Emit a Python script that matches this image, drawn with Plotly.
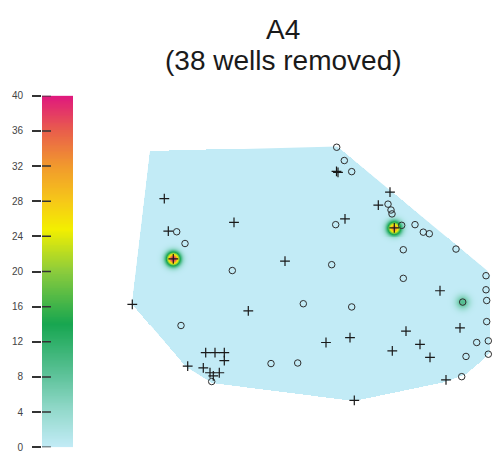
import numpy as np
import plotly.graph_objects as go

# ---- well locations (map units), marker type and measured value ----
circle_x = [336.7, 344.3, 351.7, 388.0, 391.0, 392.0, 335.7, 401.7, 415.0, 423.3,
            429.3, 403.3, 456.0, 331.7, 176.7, 185.0, 232.3, 303.3, 181.0, 211.7,
            271.0, 297.7, 403.3, 462.7, 486.0, 486.0, 486.7, 486.7, 488.3, 488.3,
            476.7, 466.0, 461.7, 351.7]
circle_y = [145.7, 159.3, 170.7, 204.0, 210.0, 214.0, 225.0, 225.7, 225.0, 232.7,
            234.3, 250.7, 250.0, 266.0, 232.3, 244.3, 272.0, 306.0, 328.3, 385.7,
            367.3, 366.7, 280.0, 304.3, 277.3, 291.7, 302.7, 324.3, 344.0, 357.7,
            345.7, 360.0, 380.7, 309.3]
circle_val = [0, 0, 0, 0, 0, 0, 0, 0, 0, 0,
              0, 0, 0, 0, 0, 0, 0, 0, 0, 0,
              0, 0, 0, 9, 0, 0, 0, 0, 0, 0,
              0, 0, 0, 0]

plus_x = [164.3, 234.0, 168.3, 173.3, 285.0, 336.5, 338.0, 390.0, 378.3, 345.0,
          394.3, 132.3, 248.3, 205.7, 215.0, 224.3, 224.3, 187.7, 203.3, 210.0,
          213.3, 219.3, 440.0, 460.0, 406.0, 420.0, 430.0, 392.3, 350.0, 326.0,
          354.3, 446.0]
plus_y = [198.3, 222.7, 231.7, 260.0, 262.3, 170.5, 171.5, 191.7, 205.0, 219.0,
          228.3, 306.7, 313.3, 356.0, 356.0, 356.0, 364.3, 370.0, 371.7, 376.7,
          380.0, 376.7, 292.7, 330.7, 334.0, 347.7, 361.0, 354.3, 340.7, 345.7,
          405.0, 384.0]
plus_val = [0, 0, 0, 40, 0, 0, 0, 0, 0, 0,
            34, 0, 0, 0, 0, 0, 0, 0, 0, 0,
            0, 0, 0, 0, 0, 0, 0, 0, 0, 0,
            0, 0]

# outline of the interpolation domain
boundary_x = [150, 337, 487, 490, 490, 466, 445, 354, 212, 187, 132]
boundary_y = [150, 145, 272, 277, 356, 378, 386, 405, 387, 371, 306]

# colour scale and its ticks
z_min, z_max = 0, 40
tick_vals = list(range(0, 41, 4))
colorscale = [
    [0.00, "#c2ebf6"],
    [0.10, "#95dacd"],
    [0.20, "#5fc39b"],
    [0.35, "#17a650"],
    [0.50, "#8ccc3c"],
    [0.62, "#f3ef00"],
    [0.70, "#f6c818"],
    [0.80, "#f1992d"],
    [0.90, "#e95e4b"],
    [1.00, "#df177e"],
]

W, H = 493, 463

# ---- kernel-smoothed surface from the wells, clipped to the domain ----
wx = np.array(circle_x + plus_x)
wy = np.array(circle_y + plus_y)
wv = np.array(circle_val + plus_val, dtype=float)
sigma = 4.8

gx = np.arange(128.5, 493.0, 1.0)
gy = np.arange(140.5, 410.0, 1.0)
GX, GY = np.meshgrid(gx, gy)
field = np.zeros_like(GX)
for x0, y0, v in zip(wx, wy, wv):
    if v > 0:
        field += v * np.exp(-((GX - x0) ** 2 + (GY - y0) ** 2) / (2 * sigma ** 2))
field = np.clip(field, z_min, z_max)


def inside_polygon(px, py, vx, vy):
    res = np.zeros(px.shape, dtype=bool)
    n = len(vx)
    j = n - 1
    for i in range(n):
        xi, yi, xj, yj = vx[i], vy[i], vx[j], vy[j]
        cond = ((yi > py) != (yj > py)) & (
            px < (xj - xi) * (py - yi) / (yj - yi + 1e-12) + xi)
        res ^= cond
        j = i
    return res


mask = inside_polygon(GX, GY, boundary_x, boundary_y)
field = np.where(mask, field, np.nan)

fig = go.Figure()

# domain fill drawn beneath everything (smooth edges)
path = "M " + " L ".join(f"{x},{y}" for x, y in zip(boundary_x, boundary_y)) + " Z"
fig.add_shape(type="path", path=path, xref="x", yref="y", layer="below",
              fillcolor=colorscale[0][1], line=dict(width=0))

fig.add_trace(go.Heatmap(
    x=gx, y=gy, z=field, zmin=z_min, zmax=z_max, colorscale=colorscale,
    showscale=False, zsmooth=False, hoverinfo="skip"))

fig.add_trace(go.Scatter(
    x=circle_x, y=circle_y, mode="markers",
    marker=dict(symbol="circle-open", size=6.5, color="#2e2e2e",
                line=dict(width=1.0, color="#2e2e2e")),
    showlegend=False))
fig.add_trace(go.Scatter(
    x=plus_x, y=plus_y, mode="markers",
    marker=dict(symbol="cross-thin", size=7,
                line=dict(width=1.2, color="#1a1a1a")),
    showlegend=False))

# ---- colour key on the left ----
key_vals = np.linspace(z_min, z_max, 401)
fig.add_trace(go.Heatmap(
    x=[0.5], y=key_vals, z=key_vals[:, None], zmin=z_min, zmax=z_max,
    colorscale=colorscale, showscale=False, xaxis="x2", yaxis="y2",
    hoverinfo="skip"))

for t in tick_vals:
    fig.add_shape(type="line", xref="x2", yref="y2", x0=0, x1=0.29, y0=t, y1=t,
                  line=dict(color="#333333", width=1.5))

bar_left, bar_right = 42 / W, 73 / W
bar_top, bar_bottom = 1 - 93 / H, 1 - 453 / H

fig.update_layout(
    width=W, height=H,
    margin=dict(l=0, r=0, t=0, b=0),
    paper_bgcolor="white", plot_bgcolor="white",
    xaxis=dict(domain=[0, 1], range=[0, W], visible=False),
    yaxis=dict(domain=[0, 1], range=[H, 0], visible=False),
    xaxis2=dict(domain=[bar_left, bar_right], range=[0, 1], visible=False,
                anchor="y2"),
    yaxis2=dict(domain=[bar_bottom, bar_top], range=[z_min, z_max],
                anchor="x2", side="left", tickvals=tick_vals,
                ticks="outside", ticklen=9, tickwidth=1.5, tickcolor="#333333",
                ticklabelstandoff=7,
                tickfont=dict(family="Liberation Sans", size=10, color="#444444"),
                showgrid=False, zeroline=False, showline=False),
    font=dict(family="Liberation Sans"),
    showlegend=False,
)

fig.add_annotation(text="A4", xref="paper", yref="paper", x=283 / W,
                   y=1 - 25 / H, xanchor="center", yanchor="middle",
                   showarrow=False, font=dict(size=28, color="#1a1a1a"))
fig.add_annotation(text="(38 wells removed)", xref="paper", yref="paper",
                   x=283 / W, y=1 - 57 / H, xanchor="center", yanchor="middle",
                   showarrow=False, font=dict(size=28, color="#1a1a1a"))

fig.write_html("out.html")
